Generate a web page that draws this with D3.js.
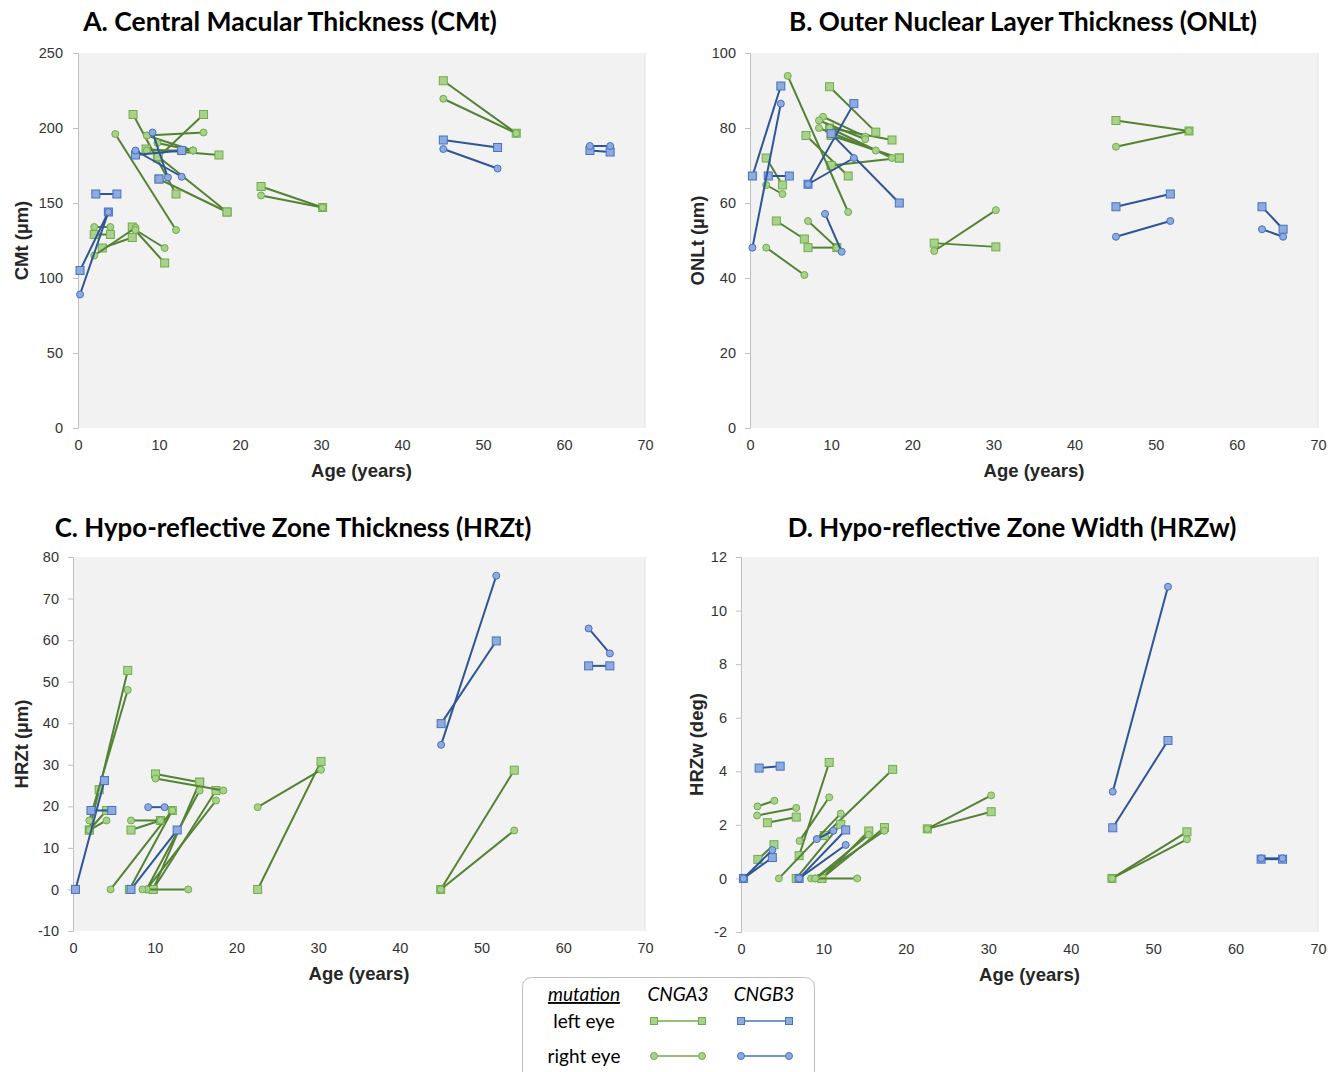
<!DOCTYPE html>
<html>
<head>
<meta charset="utf-8">
<script src="https://cdn.jsdelivr.net/npm/d3@7"></script>
<style>
  body { margin: 0; background: #fff; }
</style>
</head>
<body>
<svg id="fig" width="1338" height="1072"></svg>
<script>
// each entry = one eye, list of visits [age, value]
// A. CMt
const cmtA3Left = [
  [[6.8, 209], [12.1, 156]],
  [[9.8, 180], [15.5, 209]],
  [[8.4, 186], [17.4, 182]],
  [[9.9, 181], [18.4, 144]],
  [[10.0, 166], [18.4, 144]],
  [[2.0, 129], [4.0, 129]],
  [[3.0, 120], [6.7, 127]],
  [[6.7, 134], [10.7, 110]],
  [[22.6, 161], [30.2, 147]],
  [[45.1, 231.5], [54.1, 196.5]]
];
const cmtA3Right = [
  [[4.6, 196], [12.1, 132]],
  [[8.5, 195], [15.5, 197]],
  [[8.5, 195], [14.2, 185]],
  [[8.5, 185], [14.2, 185]],
  [[9.8, 190], [14.2, 185]],
  [[2.0, 115], [7.1, 133.5]],
  [[7.1, 132], [10.7, 120]],
  [[2.0, 134], [4.0, 134]],
  [[22.6, 155], [30.2, 147]],
  [[45.1, 219.5], [54.1, 196.5]]
];
const cmtB3Left = [
  [[0.25, 105], [3.75, 144]],
  [[2.2, 156], [4.8, 156]],
  [[7.1, 182], [12.8, 185]],
  [[10.0, 166]],
  [[45.1, 192], [51.8, 187]],
  [[63.2, 185], [65.7, 184]]
];
const cmtB3Right = [
  [[0.25, 89], [3.75, 144]],
  [[9.2, 197], [11.1, 167]],
  [[7.1, 185], [12.8, 167.5]],
  [[45.1, 186], [51.8, 173]],
  [[63.2, 188], [65.7, 188]]
];

// B. ONLt
const onlA3Left = [
  [[2.0, 72], [4.0, 64.8]],
  [[9.8, 91], [15.5, 78.9]],
  [[6.9, 78], [12.1, 67.2]],
  [[9.8, 80], [17.5, 76.8]],
  [[10.0, 78], [18.4, 72]],
  [[10.0, 70], [18.4, 72]],
  [[3.25, 55.2], [6.7, 50.4]],
  [[7.15, 48.1], [10.7, 48.1]],
  [[22.7, 49.3], [30.3, 48.3]],
  [[45.1, 82], [54.1, 79.2]]
];
const onlA3Right = [
  [[4.65, 93.9], [12.1, 57.6]],
  [[2.0, 64.8], [4.0, 62.4]],
  [[9.0, 83], [14.2, 77.7]],
  [[8.5, 82], [14.2, 77]],
  [[8.5, 80], [15.5, 74]],
  [[9.8, 80], [17.5, 72]],
  [[2.0, 48.1], [6.7, 40.8]],
  [[7.15, 55.2], [10.7, 48.1]],
  [[22.7, 47.2], [30.3, 58.1]],
  [[45.1, 75], [54.1, 79.2]]
];
const onlB3Left = [
  [[0.3, 67.2], [3.8, 91.2]],
  [[2.25, 67.2], [4.85, 67.2]],
  [[7.15, 65], [12.8, 86.5]],
  [[10.0, 78.5], [18.4, 60]],
  [[45.1, 59], [51.8, 62.4]],
  [[63.1, 59], [65.7, 53]]
];
const onlB3Right = [
  [[0.3, 48.1], [3.8, 86.5]],
  [[7.15, 65], [12.8, 72]],
  [[9.25, 57.1], [11.3, 47]],
  [[45.1, 51], [51.8, 55.2]],
  [[63.1, 53], [65.7, 51]]
];

// C. HRZt
const hrztA3Left = [
  [[2.0, 14.3], [3.2, 24], [6.7, 52.7]],
  [[2.0, 14.3], [4.1, 19]],
  [[6.9, 0], [12.15, 19]],
  [[7.1, 14.3], [10.7, 16.6]],
  [[10.1, 27.8], [15.5, 25.8]],
  [[9.8, 0], [15.5, 25.8]],
  [[9.8, 0], [17.5, 23.8]],
  [[22.6, 0], [30.35, 30.8]],
  [[45.0, 0], [54.0, 28.7]]
];
const hrztA3Right = [
  [[2.0, 16.6], [6.7, 48]],
  [[2.0, 14.3], [4.1, 16.6]],
  [[4.6, 0], [12.15, 19]],
  [[7.1, 16.6], [10.7, 16.6]],
  [[10.1, 26.7], [18.4, 23.8]],
  [[9.0, 0], [15.5, 23.8]],
  [[9.0, 0], [17.5, 21.4]],
  [[8.5, 0], [14.1, 0]],
  [[22.6, 19.8], [30.35, 28.8]],
  [[45.0, 0], [54.0, 14.2]]
];
const hrztB3Left = [
  [[0.3, 0], [3.85, 26.2]],
  [[2.2, 19], [4.75, 19]],
  [[7.1, 0], [12.75, 14.3]],
  [[45.05, 39.9], [51.8, 59.8]],
  [[63.1, 53.8], [65.7, 53.8]]
];
const hrztB3Right = [
  [[9.2, 19.8], [11.2, 19.8]],
  [[45.05, 34.8], [51.8, 75.5]],
  [[63.1, 62.8], [65.7, 56.8]]
];

// D. HRZw
const hrzwA3Left = [
  [[2.05, 0.71], [4.0, 1.26]],
  [[3.2, 2.08], [6.7, 2.29]],
  [[7.05, 0.85], [10.7, 4.33]],
  [[6.7, 0], [12.1, 2.02]],
  [[10.1, 1.6], [18.4, 4.07]],
  [[9.8, 0], [15.5, 1.77]],
  [[9.8, 0], [17.4, 1.9]],
  [[22.6, 1.85], [30.35, 2.49]],
  [[45.0, 0], [54.1, 1.74]]
];
const hrzwA3Right = [
  [[2.0, 2.69], [4.05, 2.9]],
  [[1.95, 2.35], [6.7, 2.63]],
  [[4.6, 0], [12.1, 2.42]],
  [[7.1, 1.4], [10.7, 3.03]],
  [[8.5, 0], [14.1, 0]],
  [[9.0, 0], [15.5, 1.63]],
  [[9.0, 0], [17.4, 1.78]],
  [[22.6, 1.85], [30.35, 3.1]],
  [[45.0, 0], [54.1, 1.46]]
];
const hrzwB3Left = [
  [[0.3, 0], [3.8, 0.78]],
  [[2.2, 4.12], [4.75, 4.19]],
  [[7.05, 0], [12.7, 1.81]],
  [[45.1, 1.89], [51.8, 5.15]],
  [[63.1, 0.72], [65.7, 0.72]]
];
const hrzwB3Right = [
  [[0.3, 0], [3.8, 1.06]],
  [[9.2, 1.47], [11.2, 1.78]],
  [[7.05, 0], [12.7, 1.25]],
  [[45.1, 3.24], [51.8, 10.89]],
  [[63.1, 0.75], [65.7, 0.75]]
];

const ageTicks = [0, 10, 20, 30, 40, 50, 60, 70];
const cmtTicks = [0, 50, 100, 150, 200, 250];
const onlTicks = [0, 20, 40, 60, 80, 100];
const hrztTicks = [-10, 0, 10, 20, 30, 40, 50, 60, 70, 80];
const hrzwTicks = [-2, 0, 2, 4, 6, 8, 10, 12];

const titles = [
  "A. Central Macular Thickness (CMt)",
  "B. Outer Nuclear Layer Thickness (ONLt)",
  "C. Hypo-reflective Zone Thickness (HRZt)",
  "D. Hypo-reflective Zone Width (HRZw)"
];
const yTitles = ["CMt (µm)", "ONLt (µm)", "HRZt (µm)", "HRZw (deg)"];

const GREEN = { line: "#548235", fill: "#a9d18e", stroke: "#70ad47" };
const BLUE = { line: "#2f5597", fill: "#8faadc", stroke: "#4472c4" };

const panels = [
  { l: 78, r: 645, t: 53, b: 428, yt: cmtTicks, tx: 290, ty: 31, tw: 414, ylx: 22, tickX: 63,
    groups: [[cmtA3Left, GREEN, "sq"], [cmtA3Right, GREEN, "ci"], [cmtB3Left, BLUE, "sq"], [cmtB3Right, BLUE, "ci"]] },
  { l: 750, r: 1318, t: 53, b: 428, yt: onlTicks, tx: 1023, ty: 31, tw: 468, ylx: 698, tickX: 736,
    groups: [[onlA3Left, GREEN, "sq"], [onlA3Right, GREEN, "ci"], [onlB3Left, BLUE, "sq"], [onlB3Right, BLUE, "ci"]] },
  { l: 73, r: 645, t: 557, b: 931, yt: hrztTicks, tx: 293, ty: 537, tw: 477, ylx: 22, tickX: 59,
    groups: [[hrztA3Left, GREEN, "sq"], [hrztA3Right, GREEN, "ci"], [hrztB3Left, BLUE, "sq"], [hrztB3Right, BLUE, "ci"]] },
  { l: 741, r: 1318, t: 557, b: 932, yt: hrzwTicks, tx: 1012, ty: 537, tw: 449, ylx: 697, tickX: 727,
    groups: [[hrzwA3Left, GREEN, "sq"], [hrzwA3Right, GREEN, "ci"], [hrzwB3Left, BLUE, "sq"], [hrzwB3Right, BLUE, "ci"]] }
];

const svg = d3.select("#fig");
const axisFont = "Liberation Sans, Arial, sans-serif";

function fitWidth(sel, w) {
  const cur = sel.node().getComputedTextLength();
  const fs = parseFloat(sel.attr("font-size"));
  sel.attr("font-size", fs * w / cur);
}

function drawMarker(g, kind, c, x, y, s) {
  if (kind === "sq") {
    g.append("rect")
      .attr("x", x - s / 2).attr("y", y - s / 2)
      .attr("width", s).attr("height", s)
      .attr("fill", c.fill).attr("stroke", c.stroke).attr("stroke-width", 1);
  } else {
    g.append("circle")
      .attr("cx", x).attr("cy", y).attr("r", s / 2)
      .attr("fill", c.fill).attr("stroke", c.stroke).attr("stroke-width", 1);
  }
}

panels.forEach((p, i) => {
  const x = d3.scaleLinear().domain([0, 70]).range([p.l, p.r]);
  const y = d3.scaleLinear().domain(d3.extent(p.yt)).range([p.b, p.t]);

  svg.append("rect")
    .attr("x", p.l).attr("y", p.t)
    .attr("width", p.r - p.l).attr("height", p.b - p.t)
    .attr("fill", "#f2f2f2");
  svg.append("line")
    .attr("x1", p.r).attr("x2", p.r).attr("y1", p.t).attr("y2", p.b)
    .attr("stroke", "#e3e3e3");

  // left axis
  const ya = svg.append("g")
    .attr("transform", `translate(${p.l},0)`)
    .call(d3.axisLeft(y).tickValues(p.yt).tickFormat(d => String(d))
      .tickSize(5).tickPadding(p.l - p.tickX - 5));
  ya.select(".domain").attr("stroke", "#bfbfbf");
  ya.selectAll(".tick line").attr("stroke", "#bfbfbf");
  ya.selectAll("text").attr("font-family", axisFont)
    .attr("font-size", 14.5).attr("fill", "#333");

  // bottom tick labels (no axis line)
  const xa = svg.append("g")
    .attr("transform", `translate(0,${p.b})`)
    .call(d3.axisBottom(x).tickValues(ageTicks).tickSize(0).tickPadding(12));
  xa.select(".domain").remove();
  xa.selectAll("text").attr("font-family", axisFont)
    .attr("font-size", 14.5).attr("fill", "#333");

  svg.append("text")
    .attr("x", (p.l + p.r) / 2).attr("y", p.b + 49)
    .attr("text-anchor", "middle")
    .attr("font-family", axisFont)
    .attr("font-weight", "bold").attr("font-size", 18.5).attr("fill", "#262626")
    .text("Age (years)");

  svg.append("text")
    .attr("transform", `translate(${p.ylx + 6},${(p.t + p.b) / 2}) rotate(-90)`)
    .attr("text-anchor", "middle")
    .attr("font-family", axisFont)
    .attr("font-weight", "bold").attr("font-size", 18.5).attr("fill", "#262626")
    .text(yTitles[i]);

  const tt = svg.append("text")
    .attr("x", p.tx).attr("y", p.ty)
    .attr("text-anchor", "middle")
    .attr("font-family", "Lato, 'Open Sans', sans-serif")
    .attr("font-weight", "bold").attr("font-size", 25).attr("fill", "#000")
    .text(titles[i]);
  fitWidth(tt, p.tw);

  const line = d3.line().x(d => x(d[0])).y(d => y(d[1]));
  p.groups.forEach(([eyes, c, kind]) => {
    const g = svg.append("g");
    eyes.forEach(v => {
      if (v.length > 1) {
        g.append("path").attr("d", line(v))
          .attr("fill", "none").attr("stroke", c.line).attr("stroke-width", 2);
      }
    });
    eyes.forEach(v => v.forEach(d => drawMarker(g, kind, c, x(d[0]), y(d[1]), kind === "sq" ? 8 : 7)));
  });
});

// legend
const lg = svg.append("g");
lg.append("rect")
  .attr("x", 522.5).attr("y", 977.5).attr("width", 292).attr("height", 110)
  .attr("rx", 9).attr("fill", "#fff").attr("stroke", "#bfbfbf");
const lf = "Lato, 'Open Sans', sans-serif";
lg.append("text").attr("x", 584).attr("y", 1001).attr("text-anchor", "middle")
  .attr("font-family", lf).attr("font-size", 19).attr("font-style", "italic")
  .attr("text-decoration", "underline").text("mutation");
lg.append("text").attr("x", 678).attr("y", 1001).attr("text-anchor", "middle")
  .attr("font-family", lf).attr("font-size", 19).attr("font-style", "italic").text("CNGA3");
lg.append("text").attr("x", 764).attr("y", 1001).attr("text-anchor", "middle")
  .attr("font-family", lf).attr("font-size", 19).attr("font-style", "italic").text("CNGB3");
lg.append("text").attr("x", 584).attr("y", 1028).attr("text-anchor", "middle")
  .attr("font-family", lf).attr("font-size", 19).text("left eye");
lg.append("text").attr("x", 584).attr("y", 1063).attr("text-anchor", "middle")
  .attr("font-family", lf).attr("font-size", 19).text("right eye");
[[654, 1021, GREEN, "sq"], [741, 1021, BLUE, "sq"], [654, 1056, GREEN, "ci"], [741, 1056, BLUE, "ci"]]
  .forEach(([lx, ly, c, kind]) => {
    lg.append("line").attr("x1", lx).attr("x2", lx + 48).attr("y1", ly).attr("y2", ly)
      .attr("stroke", c.stroke).attr("stroke-width", 1.5);
    drawMarker(lg, kind, c, lx, ly, 7);
    drawMarker(lg, kind, c, lx + 48, ly, 7);
  });
</script>
</body>
</html>
